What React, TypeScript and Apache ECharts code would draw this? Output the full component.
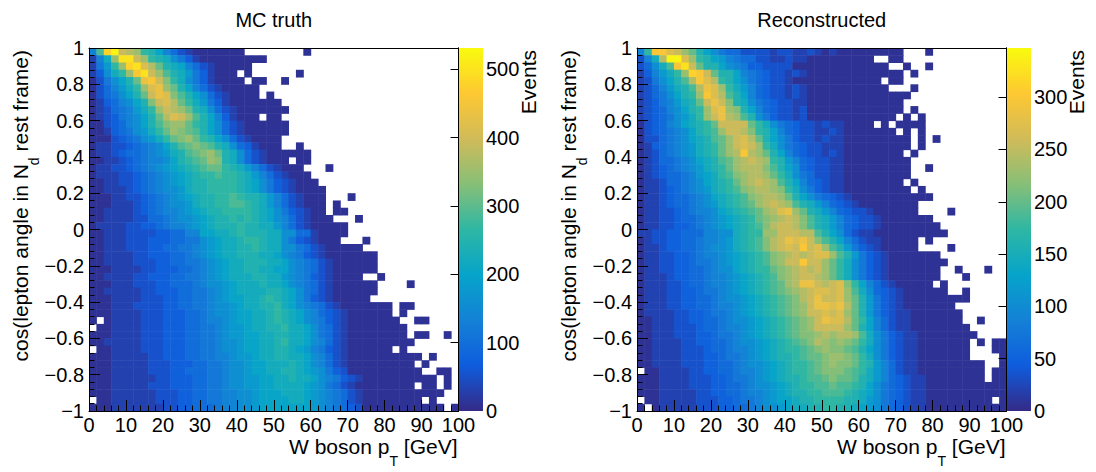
import React, { useEffect, useRef } from "react";
import * as echarts from "echarts";

const FONT = '"Liberation Sans", Arial, Helvetica, sans-serif';

// ROOT kBird palette
const BIRD = ["#352a87", "#0f5cdd", "#1481d6", "#06a4ca", "#2eb7a4", "#87bf77", "#d1bb59", "#fec832", "#f9fb0e"];

// Cell notation: "." = empty bin; letters a..y = colour level,
// each level is a fraction of the panel's z maximum.
const LEVEL_CODES = "abcdefghijklmnopqrstuvwxy";
const LEVEL_FRACTIONS = [
  0.02, 0.06, 0.1, 0.14, 0.18, 0.22, 0.26, 0.3, 0.34, 0.38, 0.42, 0.46, 0.5,
  0.54, 0.58, 0.62, 0.66, 0.7, 0.74, 0.78, 0.82, 0.86, 0.9, 0.94, 0.98,
];

const X_MIN = 0;
const X_MAX = 100;
const X_STEP = 10;
const BIN_X = 2;
const Y_MIN = -1;
const Y_MAX = 1;
const Y_STEP = 0.2;
const BIN_Y = 0.04;
const N_BINS = 50;

const TITLES = ["MC truth", "Reconstructed"];
const Z_MAX = [531, 347];
const Z_TICKS_TRUTH = [0, 100, 200, 300, 400, 500];
const Z_TICKS_RECO = [0, 50, 100, 150, 200, 250, 300];
const X_TITLE_MAIN = "W boson p";
const X_TITLE_SUB = "T";
const X_TITLE_TAIL = "[GeV]";
const Y_TITLE_MAIN = "cos(lepton angle in N";
const Y_TITLE_SUB = "d";
const Y_TITLE_TAIL = "rest frame)";
const Z_TITLE = "Events";

// rows from cos = +1 (top) down to cos = -1 (bottom), 50 bins of 2 GeV each
const MC_TRUTH_ROWS = [
  "gnwysrqmljgecbaaaaaaa........a",
  "bgkqxxsqmlkhfdbaaaaaaaaa",
  "bfimqwxtrolkjgecbaaaaa",
  "bdhkmqvxsqnlkifdbaaa.a......a",
  "acfhjlouvspmkhfdbaaaa.aa..a",
  "acegikmqtuqoljgecbaaaaa",
  "acefhjlosutpnljhecbaaaa.a",
  "abdeghjlpstromkifdbaaaaaaa",
  "abcefgikmqsrqolkhecbaaaaaaa",
  "abcdfghjlortsqnljgdbaaa.aa",
  "aacdeghjlnpqqomljhecbaaaaaa",
  "aabdefhikmoqponljhecbaaaaaa",
  "aaacdefhikmopqomljhecbaaaa",
  "abbccdefghjlnoponlkhedbaaa..a",
  "abbcdeefghiklnopqolkhecbaaaaaa",
  "aabbcdefgghjlmnoqplkhecbaaa.aa",
  "abbccdefghijklmnoomlkigecbaaa...a",
  "abbbccdefghijklmmnmmlkigecbaaa",
  "aabbccdefghijkllmmmmlkjhfdcbaaa",
  "aabbbcdefghhikllmmmmlkjhfdcbaaaa",
  "aaabbccdefghijkllmmnmllkigecbaaa...a",
  "aaabbbcdefghhikllmmnnmlkigecbaaa.a",
  "aabbbbcdefgghijkllmmmmlkjhfdcbaa.aa",
  "aabbbbcceefghhijkllmlmlkjhgecbaaa...a",
  "abbbbccddefgghijklllmllkkigecbaaaaa",
  "aabbbccccddeeggjjkklmlllkkhheebaaaa",
  "aabbbcccdddeeffhijkklmmlkkhfdcbaaa...a",
  "aabbbcccddeeffghijkkllmlkkhhfecbaaaaa",
  "aabbbbccdddeefghijkklllkkjhgfdcbaaaaaaa",
  "aabbbbcccddeeffghijkklllkkjhgfecbaaaaaa",
  "aaabbbbccdddeefghijkkllkkjjhgfecbaaaaaa",
  "aabbbbccdddeeffghijkkkllkkihgfdcbaaaa..a",
  "aaabbbcccddeeefghhijkkklkkjhgfecbaaaaaa....a",
  "aabbbbbccdddeeffghijkkkkllkjhfecbaaaaaa",
  "aaabbbbcccddeeffghijjkklmlkjhfdcbaaaaa",
  "aaabbbccccddeeffghhijkkllmkjhgfecbaaaaaaa.aa",
  "aaabbbbcccdddeefghhijjkklmlkjhgedcbaaaaaa.a",
  "a.abbbbcccdddeefgghijjkklmlkjhgfdcbaaaaaaa..aa",
  ".aabbbbcccdddeeffghiijkkllmkkjhfecbaaaaaaaa",
  "aaabbbbcccdddeeffghiijjkkllkkjhfecbaaaaaaaa.aa..a",
  "aabbbbbcccdddeeffghhijjkklmkkjhgecbaaaaaaaaa",
  ".aabbbbcccdddeeffghhijjkkllkjigfdcbaaaaaa.a",
  "aaabbbbbccdddeeffgghiijkkllkkjhgecbaaaaaaaaaa.a",
  "aaabbbbbcccdddeeffghhijjkkklkjhgecbaaaaaaaaa.a",
  "aaabbbbbcccddeeeffghhijjkkllkjihfdcaaaaaaaaaa..aa",
  "aaabbbbbbccdddeeffghhiijjkklkkjhgfdcbaaaaaaaaaa.a",
  "aaabbbbbcccdddeeffghhiijjkkkkjihfecbaaaaaaaa.aa.a",
  "aaabbbbbbcccddeeffgghhijjjkkkjihgfecbaaaaaaaaaaa",
  ".aabbbbbbcccddeeffgghhijjjjkkjihgfecbaaaaaaaa.a",
  "aaabbbbbbbccddeeefgghhijjjjjjjihgfedcaaaaaaaaaaa.a",
];

const RECO_ROWS = [
  "gmvvtsqoljhfeeccccbccbbcbabaaaaaaaaa...a",
  "cgkryytqmljigfeeccbbcbbaaaaaaaaa..aa",
  "cehknvxsolljhgfddccccaaaaaaaaaaaaa..a..a",
  "bdgikmqwvsolljgfedccbcbaaaaaaaaaaaaa.a",
  "bcfhjlnrvtrmljhfedccbaaaaaaaaaaaa.aa",
  "bcegiklnrutqmkigedccbcbaaaaaaaaaaa...a",
  "bcefhjlmqvtrnljgedccbcbaaaaaaaaaaaaaa",
  "bcdfgiklosusplkhfedccbbaaaaaaaaaaaaa",
  "bcdeghjlmqtuqpljgedccbcaaaaaaaaaaaaa.a",
  "bcdefhikmqsurqnlhfdccbcaaaaaaaaaaaa.a.a",
  "acdeghjklmossssomkhfedccbcbbaaaa.a.aaaa",
  "acdefghjlmnqssrpmljgedccbbcbaaaaaaa.a.a",
  "accefghjklnoqstroljhfdccbcbbaaaaaaaaa.a.a",
  "abdefghiklmoqstsqmkhfedccbbbaaaaaaaaa.a",
  "abcefghiklmoqrvrqoljgedccbcbaaaaaaaa.a",
  "abceefghjklnoqrsrqmligedccbbaaaaaaaaa",
  "abcdefghiklmoqrrrpnljhedccbbaaaaaaaaa..a",
  "abcdeefgijkmnpqrrqomkhfeccbbaaaaaaaaa",
  "abbceefghjklmoqrsrqnljgedcbbaaaaaaaa.a",
  "abbcdefghiklmnpqrrqpmkhfdcbbaaaaaaaaa.a",
  "abbcdeefghjklmnpqrrqoljhfedcbaaaaaaaaaaa",
  "abbcdeefghiklmnoqrsrqnlkigedcbaaaaaaaa",
  "abbccdefgghjklmnoqrtuqolkigedccbaaaaaa....a",
  "abbccdeefghijklmopqrsrpnlkigedccbaaaaaaa",
  "abbccddefghijklmnprssrpnlkigedccbaaaaaaaa",
  "bbccddeeegghhklmmqqsssrrnljhecbbaaaaaaaaaa",
  "abccddeefgghiklmnprsutuspnljgecbbaaaaa.a",
  "abbcddeefghhiklmnprstsvstqnlifdcbaaaaa....a",
  "abbccddefgghijklmnpqrsrsttqnlifdcbaaaaaaa",
  "abbccddeffghijklmnpqssvssqomkhfdcbaaaaaaaa",
  "abbccddeefghhjklmmopqrsrsqomkhfdcbaaaaaaa..a...a",
  "abbbcddeefgghijklmnpqrssrqomkhfdcbaaaaaaa...a",
  "abbbccdeefgghijklmnoqruusrstpmjgecbaaaaa.a",
  "abbbccddeffghijklmnopqrsttstqnkhedcbaaaaaa..a",
  "abbbccddeefghhijklmnoprsusstqolifdcbaaaaaaaaa",
  "abbbccddeefgghijklmnopqsuuturolifdcbaaaaaaa",
  "abbbbccddeffghijklmnopqsststqolifdcbbaaaaaaa",
  "aabbbccddeefghhijklmnopqsuttromjgecbbaaaaaaa..a",
  "aabbbcccdeefgghijklmnopqssssqoljgecbbaaaaaaaa",
  "aabbbcccddeffghijklmnoppqrqrrqnkhfdcbbaaaaaaaa",
  "aabbbbccddeefghhijklmnoprqpqpomkhfdcbbaaaaaaa.a.aa",
  "aabbbbcccdeefgghijklmmnopqpponljhfdcbbaaaaaaa...aa",
  "aabbbbcccddeffghijkllmnoopqqpomkhfdcbbaaaaaaa....a",
  "aabbbbcccddeefghhijklmmnopqppomligecbbaaaaaaaaa..a",
  ".aabbbbccddeefgghijklmmnoppponmkigecbbaaaaaaaaa.aa",
  "aaabbbbcccddeffghijkllmnnopoonlkigedcbbaaaaaaaa.aa",
  "aaabbbbcccddeefghhijklmmnnonnmljhfedcbbaaaaaaaaaaa",
  "aaabbbbbccddeefgghijkllmmnnnmlkjhfedcbbaaaaaaaaaaa",
  ".aabbbbbcccddeffghijjkllmmmmllkihfedcbbaaaaaaaaa.a",
  "a.abbbbbcccddeefghhijkkllmmllkjihfedcbbaaaaaaaaaaa",
];

// layout (pixels)
const FRAME_LEFT = [89, 637];
const FRAME_TOP = 48;
const FRAME_W = 369.5;
const FRAME_H = 363;
const CB_W = 24.5;

function decodeCells(rows: string[], zmax: number): number[][] {
  const out: number[][] = [];
  rows.forEach((row, r) => {
    const s = row.padEnd(N_BINS, ".").slice(0, N_BINS);
    for (let c = 0; c < N_BINS; c++) {
      const k = LEVEL_CODES.indexOf(s[c]);
      if (k < 0) continue;
      out.push([X_MIN + c * BIN_X, Y_MAX - (r + 1) * BIN_Y, Math.round(LEVEL_FRACTIONS[k] * zmax)]);
    }
  });
  return out;
}

function textWidth(t: string, size: number): number {
  const ctx = document.createElement("canvas").getContext("2d");
  if (!ctx) return t.length * size * 0.55;
  ctx.font = `${size}px ${FONT}`;
  return ctx.measureText(t).width;
}

const black = { color: "#000", width: 1 };

function txt(x: number, y: number, text: string, size: number, align: string) {
  return {
    type: "text",
    x,
    y,
    z: 20,
    silent: true,
    style: { text, fontSize: size, fontFamily: FONT, fill: "#000", align, verticalAlign: "middle" },
  };
}

function buildOption() {
  const grids: any[] = [];
  const xAxes: any[] = [];
  const yAxes: any[] = [];
  const series: any[] = [];
  const visualMaps: any[] = [];
  const graphics: any[] = [];

  const rowsList = [MC_TRUTH_ROWS, RECO_ROWS];
  const zTicks = [Z_TICKS_TRUTH, Z_TICKS_RECO];
  const zSteps = [100, 50];

  const sp = textWidth(" ", 21);
  const wXTail = textWidth(X_TITLE_TAIL, 21);
  const wXSub = textWidth(X_TITLE_SUB, 14);
  const wYTail = textWidth(Y_TITLE_TAIL, 21);
  const wYSub = textWidth(Y_TITLE_SUB, 14);

  // heat-map frames: grid 0 and 1
  for (let i = 0; i < 2; i++) {
    const left = FRAME_LEFT[i];
    grids.push({ left, top: FRAME_TOP, width: FRAME_W, height: FRAME_H });
    xAxes.push({
      gridIndex: i,
      type: "value",
      min: X_MIN,
      max: X_MAX,
      interval: X_STEP,
      position: "bottom",
      z: 10,
      axisLine: { show: true, onZero: false, lineStyle: black },
      axisTick: { show: true, inside: true, length: 11, lineStyle: black },
      minorTick: { show: true, splitNumber: 5, length: 5.5, lineStyle: black },
      axisLabel: { show: true, color: "#000", fontSize: 20, fontFamily: FONT, margin: 4 },
      splitLine: { show: false },
      minorSplitLine: { show: false },
    });
    xAxes.push({
      gridIndex: i,
      type: "value",
      min: X_MIN,
      max: X_MAX,
      position: "top",
      z: 10,
      axisLine: { show: true, onZero: false, lineStyle: black },
      axisTick: { show: false },
      axisLabel: { show: false },
      splitLine: { show: false },
    });
    yAxes.push({
      gridIndex: i,
      type: "value",
      min: Y_MIN,
      max: Y_MAX,
      interval: Y_STEP,
      position: "left",
      z: 10,
      axisLine: { show: true, onZero: false, lineStyle: black },
      axisTick: { show: true, inside: true, length: 11, lineStyle: black },
      minorTick: { show: true, splitNumber: 5, length: 5.5, lineStyle: black },
      axisLabel: {
        show: true,
        color: "#000",
        fontSize: 20,
        fontFamily: FONT,
        margin: 5,
        formatter: (v: number) => {
          const r = Math.round(v * 10) / 10;
          if (r === 0) return "0";
          return (r < 0 ? "\u2212" : "") + String(Math.abs(r));
        },
      },
      splitLine: { show: false },
      minorSplitLine: { show: false },
    });
    yAxes.push({
      gridIndex: i,
      type: "value",
      min: Y_MIN,
      max: Y_MAX,
      position: "right",
      z: 10,
      axisLine: { show: true, onZero: false, lineStyle: black },
      axisTick: { show: false },
      axisLabel: { show: false },
      splitLine: { show: false },
    });

    series.push({
      type: "custom",
      name: TITLES[i],
      xAxisIndex: i * 2,
      yAxisIndex: i * 2,
      data: decodeCells(rowsList[i], Z_MAX[i]),
      encode: { x: 0, y: 1 },
      clip: true,
      silent: true,
      z: 2,
      renderItem: (params: any, api: any) => {
        const x0 = api.value(0);
        const y0 = api.value(1);
        const a = api.coord([x0, y0 + BIN_Y]);
        const b = api.coord([x0 + BIN_X, y0]);
        return {
          type: "rect",
          shape: { x: a[0], y: a[1], width: b[0] - a[0] + 0.5, height: b[1] - a[1] + 0.5 },
          style: { fill: api.visual("color") },
        };
      },
    });

    visualMaps.push({
      type: "continuous",
      show: false,
      seriesIndex: i,
      dimension: 2,
      min: 0,
      max: Z_MAX[i],
      inRange: { color: BIRD },
    });

    const off = left - FRAME_LEFT[0];
    const frameRight = left + FRAME_W;

    graphics.push(txt(left + FRAME_W / 2, 20, TITLES[i], 20, "center"));

    const xEnd = frameRight - 1;
    const xTitleY = 446;
    graphics.push(txt(xEnd, xTitleY, X_TITLE_TAIL, 21, "right"));
    graphics.push(txt(xEnd - wXTail - sp, xTitleY + 15, X_TITLE_SUB, 14, "right"));
    graphics.push(txt(xEnd - wXTail - sp - wXSub, xTitleY, X_TITLE_MAIN, 21, "right"));

    graphics.push({
      type: "group",
      x: off,
      y: 50,
      rotation: Math.PI / 2,
      children: [
        txt(0, 20, Y_TITLE_TAIL, 21, "right"),
        txt(-wYTail - sp, 34, Y_TITLE_SUB, 14, "right"),
        txt(-wYTail - sp - wYSub + 1, 20, Y_TITLE_MAIN, 21, "right"),
      ],
    });

    graphics.push({
      type: "rect",
      z: 1,
      silent: true,
      shape: { x: frameRight, y: FRAME_TOP, width: CB_W, height: FRAME_H },
      style: {
        fill: new echarts.graphic.LinearGradient(
          0,
          1,
          0,
          0,
          BIRD.map((c, k) => ({ offset: k / (BIRD.length - 1), color: c }))
        ),
      },
    });

    graphics.push({
      type: "group",
      x: 0,
      y: 50,
      rotation: Math.PI / 2,
      children: [txt(0, 528 + off, Z_TITLE, 21, "right")],
    });
  }

  // colour-bar axes: grid 2 and 3
  for (let i = 0; i < 2; i++) {
    const g = 2 + i;
    grids.push({ left: FRAME_LEFT[i] + FRAME_W, top: FRAME_TOP, width: CB_W, height: FRAME_H });
    xAxes.push({ gridIndex: g, type: "value", min: 0, max: 1, show: false });
    yAxes.push({
      gridIndex: g,
      type: "value",
      min: 0,
      max: Z_MAX[i],
      interval: zSteps[i],
      position: "right",
      z: 10,
      axisLine: { show: true, lineStyle: black },
      axisTick: { show: true, inside: true, length: 8, lineStyle: black, customValues: zTicks[i] },
      axisLabel: {
        show: true,
        color: "#000",
        fontSize: 20,
        fontFamily: FONT,
        margin: 3,
        customValues: zTicks[i],
      },
      splitLine: { show: false },
    });
  }

  return {
    animation: false,
    backgroundColor: "#ffffff",
    grid: grids,
    xAxis: xAxes,
    yAxis: yAxes,
    visualMap: visualMaps,
    series,
    graphic: graphics,
  };
}

export default function App() {
  const ref = useRef<HTMLDivElement>(null);
  useEffect(() => {
    if (!ref.current) return;
    const chart = echarts.init(ref.current, null, { renderer: "svg" });
    chart.setOption(buildOption() as any);
    return () => {
      chart.dispose();
    };
  }, []);
  return (
    <div
      ref={ref}
      style={{ position: "fixed", left: 0, top: 0, width: 1096, height: 472, background: "#fff" }}
    />
  );
}
